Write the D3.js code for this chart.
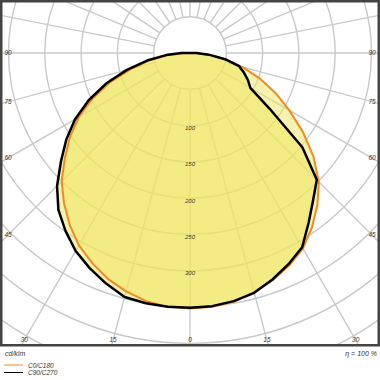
<!DOCTYPE html>
<html>
<head>
<meta charset="utf-8">
<script src="https://cdn.jsdelivr.net/npm/d3@7"></script>
<style>
  html, body { margin: 0; padding: 0; background: #fff; }
  svg { display: block; }
  text { font-family: "Liberation Sans", Arial, sans-serif; font-style: italic; fill: #333; }
</style>
</head>
<body>
<svg id="chart" width="380" height="380"></svg>
<script>
// ---- data (cd/klm) ----
const gammaAngles = [0, 5, 10, 15, 20, 25, 30, 35, 40, 45, 50, 55, 60, 65, 70, 75, 80, 85, 90];
const c0   = [352, 351, 348, 341, 333, 323, 311, 293, 273, 251, 222, 190, 158, 130, 102, 75, 50, 26, 6];  // C0 (right)
const c180 = [352, 351, 347, 340, 331, 319, 306, 289, 270, 250, 225, 202, 177, 148, 117, 84, 56, 30, 6];  // C180 (left)
const c90  = [351, 350, 347, 342, 332, 321, 309, 285, 264, 247, 202, 134, 96, 88, 79, 70, 49, 26, 9];    // C90 (right)
const c270 = [351, 351, 350, 348, 338, 327, 315, 299, 282, 259, 232, 208, 183, 154, 123, 90, 60, 33, 12]; // C270 (left)
const ringValues = [50, 100, 150, 200, 250, 300, 350, 400, 450, 500, 550];
const ringLabels = ["100", "150", "200", "250", "300"];
const angleLabels = ["0", "15", "30", "45", "60", "75", "90"];
const seriesNames = ["C0/C180", "C90/C270"];
const unitLabel = "cd/klm";
const effLabel = "\u03B7 = 100 %";

// ---- layout ----
const svg = d3.select("#chart");
const cx = 190, cy = 53;
const frame = {x: 1.25, y: 1.25, w: 377.5, h: 344};
const r = d3.scaleLinear().domain([0, 50]).range([0, 36.3]);
const rad = d => d * Math.PI / 180;

svg.append("defs").append("clipPath").attr("id", "fr")
  .append("rect").attr("x", frame.x).attr("y", frame.y).attr("width", frame.w).attr("height", frame.h);

const g = svg.append("g").attr("clip-path", "url(#fr)");

// grid rings
g.selectAll("circle.ring").data(ringValues).join("circle")
  .attr("cx", cx).attr("cy", cy).attr("r", d => r(d))
  .attr("fill", "none").attr("stroke", "#c9c9c9").attr("stroke-width", 1.4);

// radial lines: 15 deg in lower half, 11.25 deg in upper half
const spokes = d3.range(-90, 91, 15).concat(d3.range(90 + 11.25, 270, 11.25));
g.selectAll("line.spoke").data(spokes).join("line")
  .attr("x1", d => cx + r(50) * Math.sin(rad(d)))
  .attr("y1", d => cy + r(50) * Math.cos(rad(d)))
  .attr("x2", d => cx + 600 * Math.sin(rad(d)))
  .attr("y2", d => cy + 600 * Math.cos(rad(d)))
  .attr("stroke", "#c9c9c9").attr("stroke-width", 1.4);

// curves
function pts(right, left) {
  const p = [[cx, cy]];
  for (let i = gammaAngles.length - 1; i >= 0; i--) {
    const a = rad(gammaAngles[i]), rr = r(right[i]);
    p.push([cx + rr * Math.sin(a), cy + rr * Math.cos(a)]);
  }
  for (let i = 1; i < gammaAngles.length; i++) {
    const a = rad(gammaAngles[i]), rr = r(left[i]);
    p.push([cx - rr * Math.sin(a), cy + rr * Math.cos(a)]);
  }
  p.push([cx, cy]);
  return p;
}
const line = d3.line().curve(d3.curveLinear);
const pA = pts(c0, c180), pB = pts(c90, c270);

g.append("path").attr("d", line(pA) + "Z").attr("fill", "#f0e55c").attr("fill-opacity", 0.5);
g.append("path").attr("d", line(pB) + "Z").attr("fill", "#f0e55c").attr("fill-opacity", 0.5);
g.append("path").attr("d", line(pA)).attr("fill", "none").attr("stroke", "#f08a24").attr("stroke-width", 2).attr("stroke-linejoin", "round");
g.append("path").attr("d", line(pB)).attr("fill", "none").attr("stroke", "#000").attr("stroke-width", 2.5).attr("stroke-linejoin", "round");

// ring labels
g.selectAll("text.rl").data(ringLabels).join("text")
  .attr("x", cx).attr("y", d => cy + r(+d) + 4.5)
  .attr("text-anchor", "middle").attr("font-size", 6).text(d => d);

// angle labels
const lx = 8, rx = 372, by = 340;
angleLabels.forEach(lbl => {
  const a = +lbl;
  [-1, 1].forEach(s => {
    if (a === 0 && s === -1) return;
    let x, y;
    const dirx = Math.sin(rad(a)), diry = Math.cos(rad(a));
    const tEdge = (rx - cx) / (dirx || 1e-9);
    const tBot = (by - cy) / diry;
    if (dirx > 0 && tEdge < tBot) { x = cx + s * (rx - cx); y = cy + tEdge * diry; }
    else { x = cx + s * tBot * dirx; y = by; }
    svg.append("text").attr("x", x).attr("y", y + 2.3).attr("text-anchor", "middle")
      .attr("font-size", 6.5).text(lbl);
  });
});

// frame
svg.append("rect").attr("x", frame.x).attr("y", frame.y).attr("width", frame.w).attr("height", frame.h)
  .attr("fill", "none").attr("stroke", "#444").attr("stroke-width", 2.5);

// footer
svg.append("text").attr("x", 5).attr("y", 356).attr("font-size", 7).text(unitLabel);
svg.append("text").attr("x", 377).attr("y", 356).attr("text-anchor", "end").attr("font-size", 7).text(effLabel);
const legColors = ["#f08a24", "#000"];
seriesNames.forEach((n, i) => {
  const y = 365 + i * 7.5;
  svg.append("line").attr("x1", 4).attr("x2", 23).attr("y1", y).attr("y2", y)
    .attr("stroke", legColors[i]).attr("stroke-width", 1);
  svg.append("text").attr("x", 28).attr("y", y + 2.5).attr("font-size", 6.5).text(n);
});
</script>
</body>
</html>
